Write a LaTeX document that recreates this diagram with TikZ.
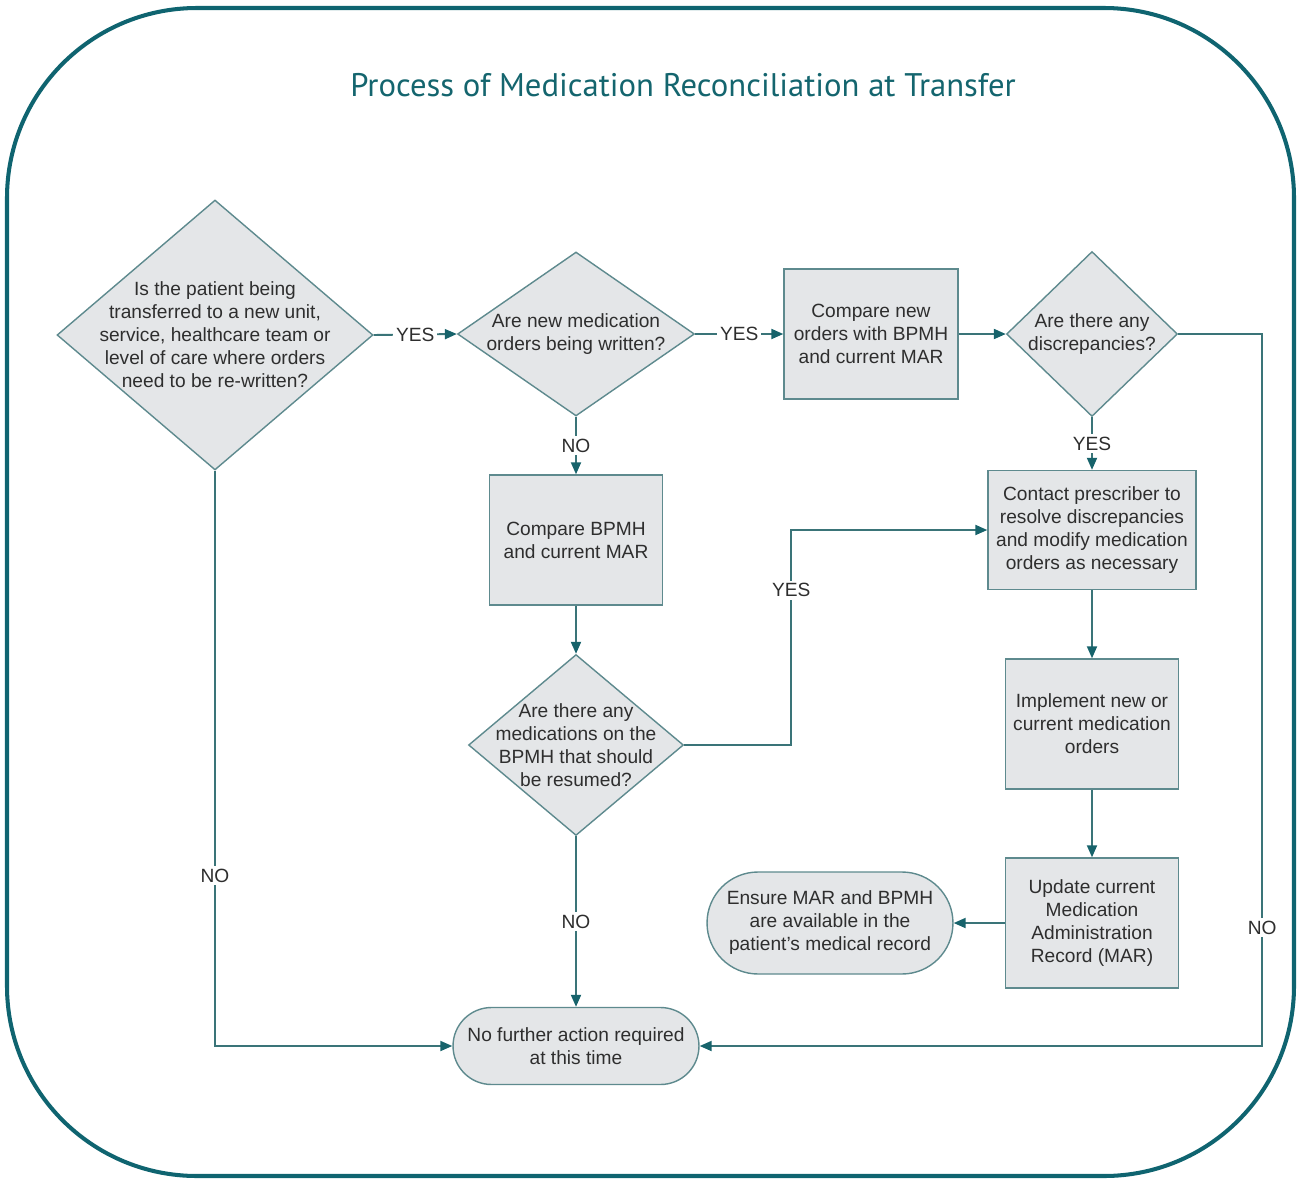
\documentclass[tikz,border=0pt]{standalone}
\usepackage{fontspec}
\setmainfont{Liberation Sans}
\newfontfamily\titlefont{PT Sans}
\usetikzlibrary{shapes.geometric,shapes.misc,arrows.meta}
\definecolor{frame}{HTML}{0F6470}
\definecolor{titlec}{HTML}{14656E}
\definecolor{nodef}{HTML}{E4E6E8}
\definecolor{nodeb}{HTML}{5E8A8E}
\definecolor{linec}{HTML}{3A7478}
\definecolor{arrc}{HTML}{17636B}
\definecolor{textc}{HTML}{2E2E2E}
\newcommand{\bodyf}{\fontsize{10.9pt}{13.1pt}\selectfont}
\begin{document}
\begin{tikzpicture}[x=0.02cm,y=-0.02cm,
  dia/.style={diamond, draw=nodeb, fill=nodef, line width=0.8pt, inner sep=0pt},
  box/.style={rectangle, draw=nodeb, fill=nodef, line width=0.8pt, align=center, font=\bodyf, text=textc, inner sep=0pt},
  term/.style={rounded rectangle, draw=nodeb, fill=nodef, line width=0.8pt, align=center, font=\bodyf, text=textc, inner sep=0pt},
  txt/.style={align=center, font=\bodyf, text=textc, inner sep=0pt},
  conn/.style={draw=linec, line width=1.1pt, -{Triangle[length=0.24cm,width=0.2cm,color=arrc]}},
  lab/.style={fill=white, inner sep=1.5pt, font=\bodyf, text=textc}]
\useasboundingbox (0,0) rectangle (1299,1180);
\draw[frame, line width=2.3pt, rounded corners=3.8cm] (7,8) rectangle (1294,1176);
\node[font=\titlefont\fontsize{18.6pt}{22pt}\selectfont, text=titlec] (title) at (683,85) {Process of Medication Reconciliation at Transfer};

\node[dia, minimum width=6.32cm, minimum height=5.4cm,
  label={[txt]center:{Is the patient being\\transferred to a new unit,\\service, healthcare team or\\level of care where orders\\need to be re-written?}}] (d1) at (215,335) {};
\node[dia, minimum width=4.74cm, minimum height=3.28cm,
  label={[txt]center:{Are new medication\\orders being written?}}] (d2) at (576,334) {};
\node[box, minimum width=3.48cm, minimum height=2.6cm] (b1) at (871,334) {Compare new\\orders with BPMH\\and current MAR};
\node[dia, minimum width=3.42cm, minimum height=3.3cm,
  label={[txt]center:{Are there any\\discrepancies?}}] (d3) at (1092,334) {};
\node[box, minimum width=3.46cm, minimum height=2.6cm] (b2) at (576,540) {Compare BPMH\\and current MAR};
\node[dia, minimum width=4.3cm, minimum height=3.62cm,
  label={[txt]center:{Are there any\\medications on the\\BPMH that should\\be resumed?}}] (d4) at (576,745) {};
\node[box, minimum width=4.16cm, minimum height=2.38cm] (b3) at (1092,530) {Contact prescriber to\\resolve discrepancies\\and modify medication\\orders as necessary};
\node[box, minimum width=3.46cm, minimum height=2.6cm] (b4) at (1092,724) {Implement new or\\current medication\\orders};
\node[box, minimum width=3.46cm, minimum height=2.6cm] (b5) at (1092,923) {Update current\\Medication\\Administration\\Record (MAR)};
\node[term, minimum width=4.92cm, minimum height=2.04cm] (t1) at (830,923) {Ensure MAR and BPMH\\are available in the\\patient's medical record};
\node[term, minimum width=4.92cm, minimum height=1.54cm] (t2) at (576,1046) {No further action required\\at this time};

\draw[conn] (d1.east) -- node[lab]{YES} (d2.west);
\draw[conn] (d2.east) -- node[lab]{YES} (b1.west);
\draw[conn] (b1.east) -- (d3.west);
\draw[conn] (d3.south) -- node[lab]{YES} (b3.north);
\draw[conn] (d3.east) -- ++(84,0) |- node[lab, pos=0.417]{NO} (t2.east);
\draw[conn] (d2.south) -- node[lab]{NO} (b2.north);
\draw[conn] (b2.south) -- (d4.north);
\draw[conn] (d4.east) -- ++(107,0) |- node[lab, pos=0.36]{YES} (b3.west);
\draw[conn] (d4.south) -- node[lab]{NO} (t2.north);
\draw[conn] (b3.south) -- (b4.north);
\draw[conn] (b4.south) -- (b5.north);
\draw[conn] (b5.west) -- (t1.east);
\draw[conn] (d1.south) |- node[lab, pos=0.352]{NO} (t2.west);
\end{tikzpicture}
\end{document}
